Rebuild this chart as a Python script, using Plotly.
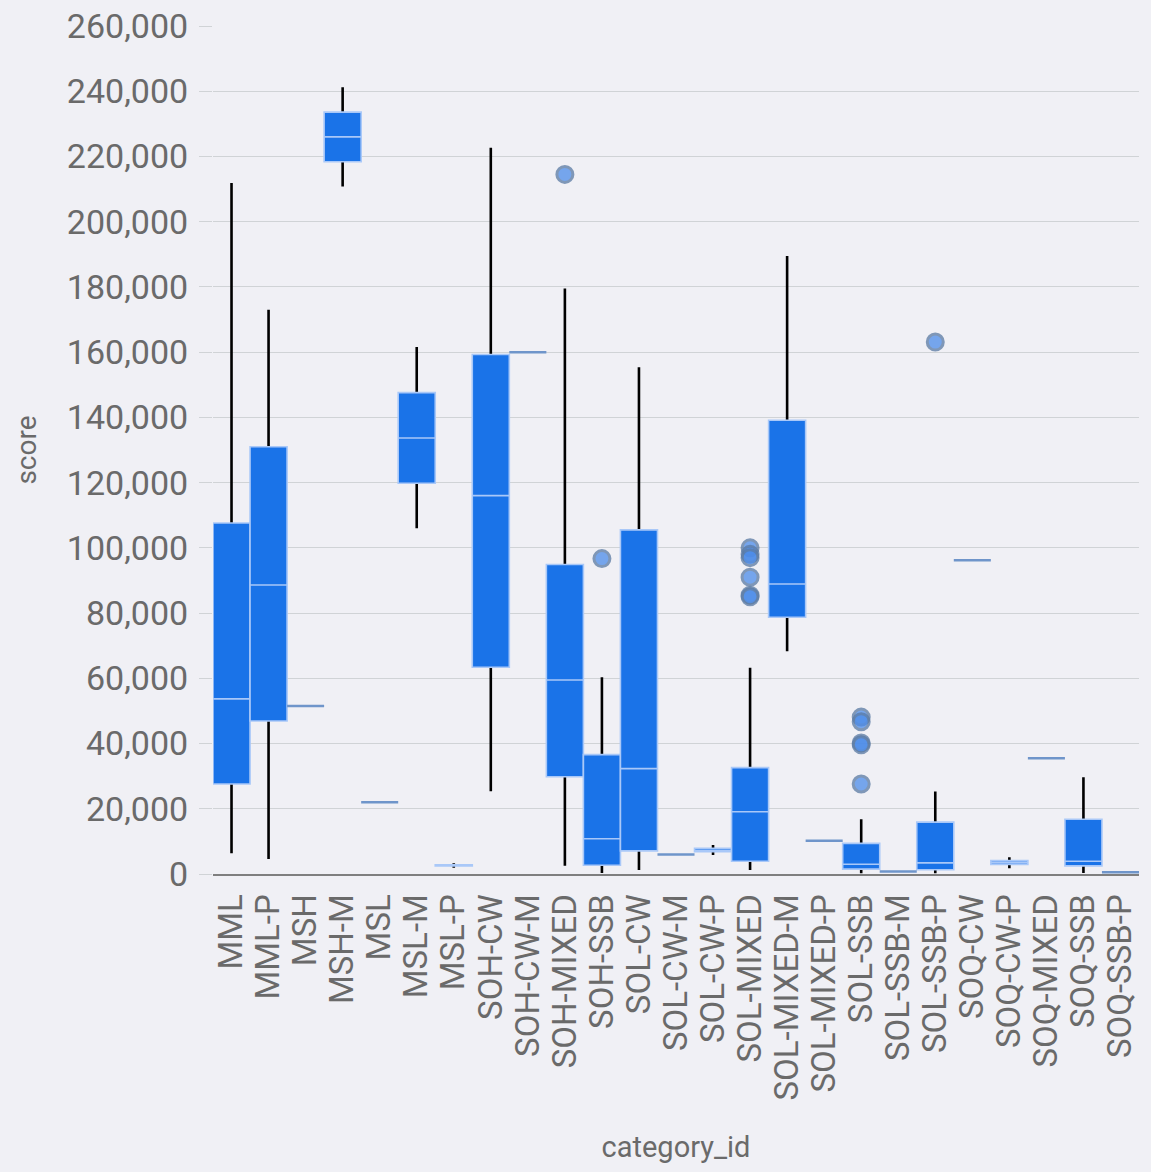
import plotly.graph_objects as go

categories = ["MML", "MML-P", "MSH", "MSH-M", "MSL", "MSL-M", "MSL-P", "SOH-CW", "SOH-CW-M",
              "SOH-MIXED", "SOH-SSB", "SOL-CW", "SOL-CW-M", "SOL-CW-P", "SOL-MIXED", "SOL-MIXED-M",
              "SOL-MIXED-P", "SOL-SSB", "SOL-SSB-M", "SOL-SSB-P", "SOQ-CW", "SOQ-CW-P", "SOQ-MIXED",
              "SOQ-SSB", "SOQ-SSB-P"]
lower_fence = [6400, 4600, 51500, 210800, 22000, 106000, 1900, 25400, 160000,
               2500, 300, 1200, 6000, 5800, 1200, 68300,
               10200, 200, 800, 200, 96200, 1800, 35500,
               300, 500]
q1 = [27600, 46900, 51500, 218400, 22000, 119800, 2500, 63400, 160000,
      29800, 2700, 7100, 6000, 6800, 3900, 78700,
      10200, 1500, 800, 1300, 96200, 2900, 35500,
      2500, 500]
median = [53700, 88600, 51500, 226000, 22000, 133700, 2650, 116000, 160000,
          59500, 10800, 32300, 6000, 7300, 19100, 88900,
          10200, 3000, 800, 3400, 96200, 3500, 35500,
          3900, 500]
q3 = [107600, 131000, 51500, 233600, 22000, 147600, 2800, 159300, 160000,
      94900, 36600, 105500, 6000, 7900, 32600, 139100,
      10200, 9400, 800, 15900, 96200, 4100, 35500,
      16800, 500]
upper_fence = [211900, 173000, 51500, 241200, 22000, 161600, 3300, 222700, 160000,
               179500, 60300, 155400, 6000, 8900, 63200, 189500,
               10200, 16800, 800, 25300, 96200, 5100, 35500,
               29700, 500]
outlier_category = ["SOH-MIXED", "SOH-SSB", "SOL-MIXED", "SOL-MIXED", "SOL-MIXED", "SOL-MIXED",
                    "SOL-MIXED", "SOL-MIXED", "SOL-SSB", "SOL-SSB", "SOL-SSB", "SOL-SSB", "SOL-SSB",
                    "SOL-SSB-P"]
outlier_score = [214500, 96700, 100000, 98000, 97000, 91000,
                 85500, 85000, 48100, 46700, 40200, 39600, 27600,
                 163100]

BLUE = "#1a73e8"
LIGHT = "#a9c8f8"
SINGLE = "#6f95ca"
TEXT = "#6a6a6a"
GRID = "#d0d3d6"
FONT = "Roboto"

multi = [i for i in range(len(categories)) if lower_fence[i] != upper_fence[i]]
single = [i for i in range(len(categories)) if lower_fence[i] == upper_fence[i]]

def pick(arr, idx):
    return [arr[i] for i in idx]

fig = go.Figure()

# whiskers (black, behind the boxes)
fig.add_trace(go.Box(
    x=pick(categories, multi), q1=pick(q1, multi), median=pick(median, multi), q3=pick(q3, multi),
    lowerfence=pick(lower_fence, multi), upperfence=pick(upper_fence, multi),
    width=0.001, whiskerwidth=0, line=dict(color="black", width=2.6),
    fillcolor="black", boxpoints=False, showlegend=False, hoverinfo="skip"))

# boxes
fig.add_trace(go.Box(
    x=pick(categories, multi), q1=pick(q1, multi), median=pick(median, multi), q3=pick(q3, multi),
    lowerfence=pick(q1, multi), upperfence=pick(q3, multi),
    width=1.0, whiskerwidth=0, line=dict(color=LIGHT, width=1.6),
    fillcolor=BLUE, boxpoints=False, showlegend=False))

# single-value categories
fig.add_trace(go.Box(
    x=pick(categories, single), q1=pick(q1, single), median=pick(median, single), q3=pick(q3, single),
    lowerfence=pick(lower_fence, single), upperfence=pick(upper_fence, single),
    width=1.0, whiskerwidth=0, line=dict(color=SINGLE, width=2.5),
    fillcolor=SINGLE, boxpoints=False, showlegend=False))

# outliers
fig.add_trace(go.Scatter(
    x=outlier_category, y=outlier_score, mode="markers", showlegend=False,
    marker=dict(size=16, color="#4c8ce9", opacity=0.75,
                line=dict(color="#5a7aa3", width=3))))

fig.update_layout(
    width=1151, height=1172,
    margin=dict(l=213, r=12, t=26, b=298, autoexpand=False),
    paper_bgcolor="#f0f0f5", plot_bgcolor="#f0f0f5",
    boxmode="overlay",
    font=dict(family=FONT, color=TEXT, size=32),
    xaxis=dict(
        type="category", categoryorder="array", categoryarray=categories,
        range=[-0.5, len(categories) - 0.5],
        tickmode="linear", tick0=0, dtick=1,
        tickangle=-90, tickfont=dict(size=33, color=TEXT, family=FONT),
        showgrid=False, zeroline=False, ticks="", ticklabelstandoff=5,
        showline=True, linecolor="#7f7f7f", linewidth=2,
        title=dict(text="category_id", font=dict(size=29, color=TEXT, family=FONT), standoff=37),
        automargin=False),
    yaxis=dict(
        range=[0, 260000], dtick=20000, tickformat=",d",
        tickfont=dict(size=34, color=TEXT, family=FONT),
        showgrid=True, gridcolor=GRID, gridwidth=1, zeroline=False,
        ticks="outside", ticklen=13, tickcolor=GRID, tickwidth=1, ticklabelstandoff=4,
        title=dict(text="score", font=dict(size=28, color=TEXT, family=FONT), standoff=22),
        automargin=False),
)

fig.write_html("out.html", config={"displayModeBar": False},
               post_script="document.body.style.margin='0';document.body.style.overflow='hidden';")
